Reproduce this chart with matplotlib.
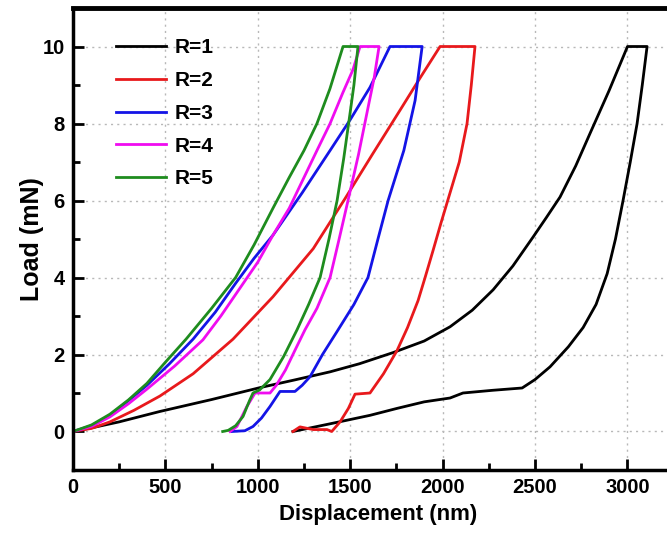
import numpy as np
import matplotlib
matplotlib.use('Agg')
import matplotlib.pyplot as plt
from matplotlib.ticker import MultipleLocator

plt.rcParams['font.family'] = ['Liberation Sans', 'DejaVu Sans']
plt.rcParams['font.weight'] = 'bold'

labels = ['R=1', 'R=2', 'R=3', 'R=4', 'R=5']
colors = ['black', '#e8191c', '#1414e6', '#f00cf0', '#1e8c1e']

# R=1 (loading then unloading)
r1_x = [0, 125, 250, 470, 750, 1012, 1200, 1391, 1550, 1732, 1900, 2040, 2160,
        2273, 2380, 2489, 2560, 2635, 2720, 2798, 2900, 3000, 3106,
        3080, 3052, 3015, 2976, 2935, 2890, 2830, 2760, 2680, 2581, 2500,
        2430, 2270, 2110, 2040, 1900, 1753, 1607, 1391, 1190]
r1_y = [0, 0.12, 0.25, 0.52, 0.83, 1.14, 1.34, 1.55, 1.76, 2.05, 2.35, 2.72, 3.15,
        3.68, 4.3, 5.05, 5.55, 6.09, 6.9, 7.75, 8.85, 10, 10,
        9.0, 8.0, 7.0, 6.0, 5.0, 4.1, 3.3, 2.7, 2.2, 1.68, 1.35,
        1.13, 1.07, 1.0, 0.87, 0.77, 0.6, 0.42, 0.2, 0.0]
# R=2
r2_x = [0, 100, 200, 330, 470, 650, 866, 1082, 1300, 1472, 1620, 1770, 1880,
        1986, 2175, 2155, 2132, 2090, 2040, 1990, 1948, 1905, 1867, 1810, 1753,
        1680, 1607, 1526, 1490, 1445, 1400, 1374, 1300, 1228, 1190]
r2_y = [0, 0.08, 0.25, 0.55, 0.92, 1.5, 2.4, 3.5, 4.75, 6.05, 7.2, 8.35, 9.2,
        10, 10, 9.0, 8.0, 7.0, 6.2, 5.4, 4.7, 4.0, 3.4, 2.7, 2.1,
        1.5, 1.0, 0.97, 0.6, 0.25, 0.0, 0.05, 0.05, 0.12, 0.0]
# R=3
r3_x = [0, 100, 200, 300, 400, 520, 650, 770, 880, 980, 1082, 1240, 1391, 1500,
        1607, 1715, 1889, 1870, 1851, 1790, 1705, 1650, 1596, 1520, 1429, 1350,
        1282, 1240, 1201, 1120, 1066, 1020, 974, 930, 860]
r3_y = [0, 0.15, 0.42, 0.8, 1.2, 1.75, 2.4, 3.1, 3.85, 4.5, 5.1, 6.2, 7.3, 8.1,
        8.94, 10, 10, 9.3, 8.6, 7.3, 6.0, 5.0, 4.0, 3.3, 2.6, 2.0,
        1.42, 1.2, 1.04, 1.04, 0.65, 0.35, 0.13, 0.02, 0.0]
# R=4
r4_x = [0, 100, 200, 300, 400, 550, 703, 800, 900, 1000, 1082, 1170, 1250, 1320,
        1391, 1460, 1515, 1553, 1656, 1630, 1600, 1545, 1488, 1440, 1391, 1320,
        1255, 1200, 1150, 1100, 1066, 985, 960, 941, 910, 887, 850]
r4_y = [0, 0.13, 0.38, 0.72, 1.1, 1.7, 2.38, 3.0, 3.7, 4.4, 5.1, 5.8, 6.6, 7.3,
        8.0, 8.8, 9.4, 10, 10, 9.2, 8.5, 7.2, 6.0, 5.0, 4.0, 3.2,
        2.64, 2.1, 1.6, 1.2, 1.0, 1.0, 0.8, 0.65, 0.35, 0.13, 0.0]
# R=5
r5_x = [0, 100, 200, 300, 400, 500, 612, 750, 880, 980, 1082, 1170, 1250, 1320,
        1390, 1461, 1542, 1520, 1500, 1465, 1429, 1385, 1337, 1275, 1212, 1140,
        1066, 1010, 974, 955, 920, 880, 840, 810]
r5_y = [0, 0.17, 0.45, 0.82, 1.25, 1.8, 2.4, 3.2, 4.0, 4.85, 5.8, 6.6, 7.3, 8.0,
        8.9, 10, 10, 9.0, 8.3, 7.1, 6.0, 5.0, 4.0, 3.3, 2.64, 1.95,
        1.35, 1.08, 1.0, 0.8, 0.39, 0.15, 0.03, 0.0]

series = [(r1_x, r1_y), (r2_x, r2_y), (r3_x, r3_y), (r4_x, r4_y), (r5_x, r5_y)]

fig = plt.figure(figsize=(6.67, 5.38), dpi=100)
ax = fig.add_axes([0.1094, 0.1264, 0.9145, 0.8587])

for (xs, ys), c, lab in zip(series, colors, labels):
    ax.plot(xs, ys, color=c, lw=2.0, label=lab, solid_joinstyle='round')

ax.set_xlim(0, 3300)
ax.set_ylim(-1, 11)
ax.xaxis.set_major_locator(MultipleLocator(500))
ax.xaxis.set_minor_locator(MultipleLocator(250))
ax.yaxis.set_major_locator(MultipleLocator(2))
ax.yaxis.set_minor_locator(MultipleLocator(1))
ax.tick_params(which='major', direction='in', length=8, width=2, labelsize=14.5, pad=6)
ax.tick_params(which='minor', direction='in', length=5, width=2)
ax.tick_params(top=False, right=False)
for lab in ax.get_xticklabels() + ax.get_yticklabels():
    lab.set_fontweight('bold')
for s in ax.spines.values():
    s.set_linewidth(2.5)
ax.spines['top'].set_linewidth(3.5)

ax.grid(True, which='major', ls=(0, (1.5, 3)), color='#b8b8b8', lw=1.0)
ax.set_axisbelow(True)

ax.set_xlabel('Displacement (nm)', fontsize=16, fontweight='bold', labelpad=5)
ax.set_ylabel('Load (mN)', fontsize=18, fontweight='bold', labelpad=-1)

leg = ax.legend(loc='upper left', bbox_to_anchor=(0.04, 0.975), frameon=False,
                prop={'size': 15, 'weight': 'bold'}, handlelength=2.4,
                handletextpad=0.4, labelspacing=0.66)

fig.savefig('out.png', dpi=100)
